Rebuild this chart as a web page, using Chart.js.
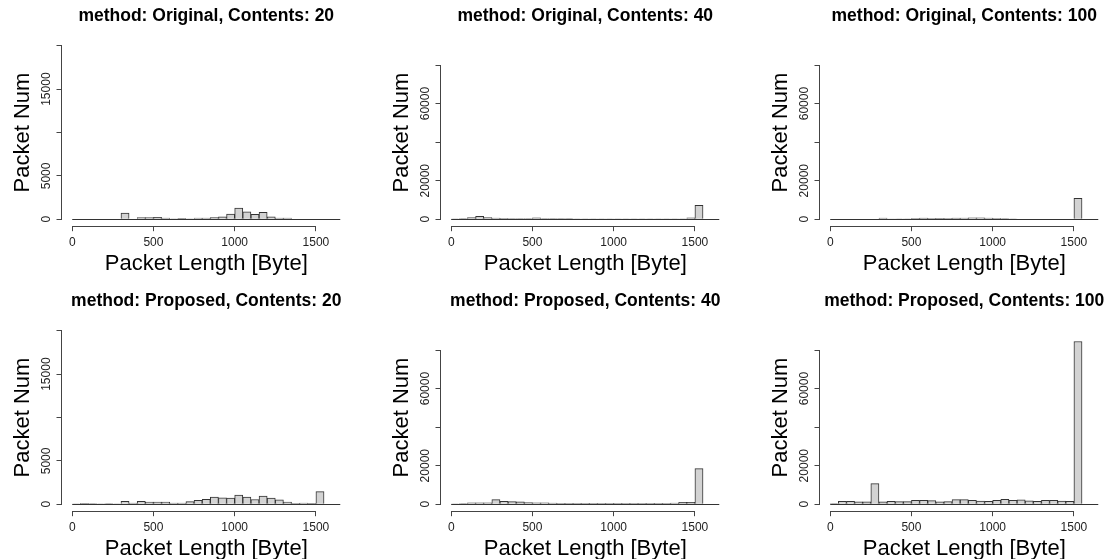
<!DOCTYPE html>
<html>
<head>
<meta charset="utf-8">
<script src="https://cdn.jsdelivr.net/npm/chart.js@4/dist/chart.umd.min.js"></script>
<style>
  body { margin: 0; background: #fff; overflow: hidden; }
  #wrap { position: relative; width: 1105px; height: 559px; overflow: hidden; }
  .panel { position: absolute; width: 379px; height: 285px; }
</style>
</head>
<body>
<div id="wrap"></div>
<script>
// histogram bins (left edge, 50 byte wide)
const binWidth = 50;
const binStarts = [0, 50, 100, 150, 200, 250, 300, 350, 400, 450, 500, 550, 600, 650, 700, 750,
  800, 850, 900, 950, 1000, 1050, 1100, 1150, 1200, 1250, 1300, 1350, 1400, 1450, 1500, 1550, 1600];

// packet counts per bin
const original20 = [0, 0, 0, 0, 0, 0, 700, 0, 200, 200, 230, 150, 20, 100, 20, 150, 150, 180, 280, 600,
  1300, 850, 570, 800, 280, 150, 130, 0, 0, 0, 0, 0, 0];
const original40 = [100, 300, 900, 1500, 900, 600, 500, 400, 400, 400, 700, 400, 300, 300, 300, 200,
  100, 100, 100, 100, 100, 100, 100, 100, 100, 100, 100, 100, 200, 700, 7200, 0, 0];
const original100 = [0, 0, 0, 0, 0, 0, 600, 50, 200, 250, 500, 550, 500, 450, 500, 550, 600, 800, 800,
  650, 500, 300, 250, 0, 0, 0, 0, 0, 0, 0, 10800, 0, 0];
const proposed20 = [50, 100, 80, 50, 80, 50, 330, 150, 330, 250, 250, 250, 150, 150, 300, 450, 580, 820,
  730, 720, 1050, 830, 550, 940, 720, 520, 260, 120, 150, 100, 1450, 0, 0];
const proposed40 = [100, 300, 800, 800, 800, 2400, 1500, 1400, 1200, 850, 800, 800, 600, 500, 500, 500,
  500, 500, 500, 500, 500, 500, 500, 500, 500, 500, 500, 600, 1000, 1000, 18450, 0, 0];
const proposed100 = [300, 1500, 1500, 1300, 1200, 10700, 1200, 1500, 1400, 1400, 2000, 2000, 1900, 1300,
  1400, 2400, 2400, 2000, 1700, 1500, 2000, 2600, 2000, 2300, 1800, 1500, 2000, 2000, 1700, 1500, 84400, 0, 0];

const titles = [
  'method: Original, Contents: 20', 'method: Original, Contents: 40', 'method: Original, Contents: 100',
  'method: Proposed, Contents: 20', 'method: Proposed, Contents: 40', 'method: Proposed, Contents: 100'
];
const series = [original20, original40, original100, proposed20, proposed40, proposed100];

// axes (R style: xlim/ylim padded by 4%)
const xTicks = [0, 500, 1000, 1500];
const xRange = [-66, 1716];
const smallYTicks = [0, 5000, 10000, 15000, 20000];
const smallYLabels = ['0', '5000', '', '15000', ''];
const smallYRange = [-800, 20800];
const largeYTicks = [0, 20000, 40000, 60000, 80000];
const largeYLabels = ['0', '20000', '', '60000', ''];
const largeYRange = [-3600, 93600];

Chart.defaults.font.family = '"Liberation Sans", Arial, Helvetica, sans-serif';
Chart.defaults.color = '#111';

const lineColor = '#444';

// axis lines that stop at the end ticks, the zero line under the bins, rotated y labels
const rAxes = {
  id: 'rAxes',
  afterDraw(chart, args, opts) {
    const { ctx, chartArea: a, scales: { x, y } } = chart;
    ctx.save();
    ctx.strokeStyle = lineColor;
    ctx.lineWidth = 1;

    const xb = Math.round(a.bottom) + 0.5;
    ctx.beginPath();
    ctx.moveTo(x.getPixelForValue(xTicks[0]), xb);
    ctx.lineTo(x.getPixelForValue(xTicks[xTicks.length - 1]), xb);
    ctx.stroke();

    const yl = Math.round(a.left) - 0.5;
    ctx.beginPath();
    ctx.moveTo(yl, y.getPixelForValue(opts.ticks[0]));
    ctx.lineTo(yl, y.getPixelForValue(opts.ticks[opts.ticks.length - 1]));
    ctx.stroke();

    const y0 = Math.round(y.getPixelForValue(0)) + 0.5;
    ctx.strokeStyle = '#333';
    ctx.beginPath();
    ctx.moveTo(x.getPixelForValue(binStarts[0]), y0);
    ctx.lineTo(x.getPixelForValue(binStarts[binStarts.length - 1] + binWidth), y0);
    ctx.stroke();

    ctx.fillStyle = '#222';
    ctx.font = '12px "Liberation Sans", Arial, sans-serif';
    ctx.textAlign = 'center';
    ctx.textBaseline = 'alphabetic';
    opts.ticks.forEach((v, i) => {
      if (!opts.labels[i]) return;
      ctx.save();
      ctx.translate(a.left - 12, y.getPixelForValue(v));
      ctx.rotate(-Math.PI / 2);
      ctx.fillText(opts.labels[i], 0, 0);
      ctx.restore();
    });
    ctx.restore();
  }
};

const wrap = document.getElementById('wrap');

series.forEach((counts, i) => {
  const row = Math.floor(i / 3), col = i % 3;
  const small = (i % 3) === 0;
  const yTicks = small ? smallYTicks : largeYTicks;
  const yLabels = small ? smallYLabels : largeYLabels;
  const yRange = small ? smallYRange : largeYRange;

  const div = document.createElement('div');
  div.className = 'panel';
  div.style.left = (col * 379) + 'px';
  div.style.top = (row * 285) + 'px';
  const canvas = document.createElement('canvas');
  canvas.width = 379;
  canvas.height = 285;
  div.appendChild(canvas);
  wrap.appendChild(div);

  new Chart(canvas.getContext('2d'), {
    type: 'bar',
    data: {
      datasets: [{
        data: binStarts.map((s, k) => ({ x: s + binWidth / 2, y: counts[k] })),
        backgroundColor: '#d3d3d3',
        borderColor: '#333',
        borderWidth: 1,
        barPercentage: 1,
        categoryPercentage: 1
      }]
    },
    options: {
      responsive: false,
      animation: false,
      layout: { padding: { left: 0, right: 28, top: 0, bottom: 0 } },
      plugins: {
        legend: { display: false },
        tooltip: { enabled: false },
        title: {
          display: true,
          text: titles[i],
          fullSize: false,
          color: '#000',
          font: { size: 17.5, weight: 'bold' },
          padding: { top: 5.2, bottom: 12.6 }
        },
        rAxes: { ticks: yTicks, labels: yLabels }
      },
      scales: {
        x: {
          type: 'linear',
          min: xRange[0],
          max: xRange[1],
          offset: false,
          afterBuildTicks: s => { s.ticks = xTicks.map(v => ({ value: v })); },
          afterFit: s => { s.height = 58.8; },
          grid: { offset: false, drawOnChartArea: false, drawTicks: true, tickLength: 5, color: lineColor },
          border: { display: false },
          ticks: {
            font: { size: 12 }, color: '#222', padding: 4.4, maxRotation: 0, autoSkip: false,
            callback: v => String(v)
          },
          title: {
            display: true,
            text: 'Packet Length [Byte]',
            color: '#000',
            font: { size: 22 },
            padding: { top: 0, bottom: 7.5 }
          }
        },
        y: {
          min: yRange[0],
          max: yRange[1],
          afterBuildTicks: s => { s.ticks = yTicks.map(v => ({ value: v })); },
          afterFit: s => { s.width = 61.5; },
          grid: { drawOnChartArea: false, drawTicks: true, tickLength: 5, color: lineColor },
          border: { display: false },
          ticks: { display: false },
          title: {
            display: true,
            text: 'Packet Num',
            color: '#000',
            font: { size: 22 },
            padding: { top: 9.7, bottom: 0 }
          }
        }
      }
    },
    plugins: [rAxes]
  });
});
</script>
</body>
</html>
